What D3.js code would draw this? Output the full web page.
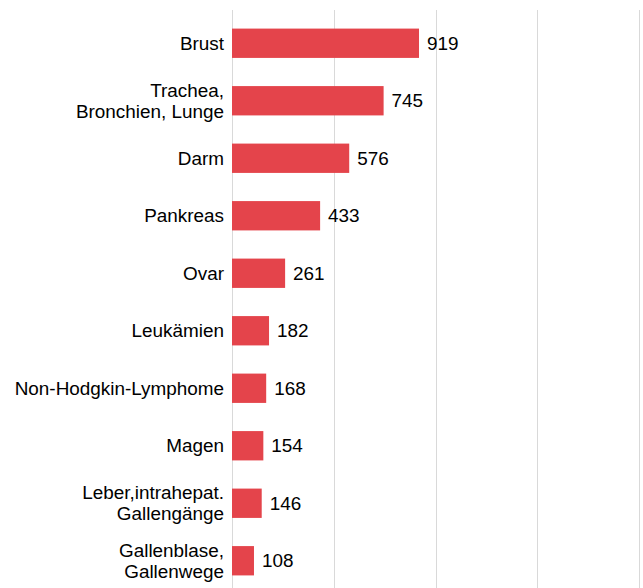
<!DOCTYPE html>
<html><head><meta charset="utf-8">
<script src="https://cdn.jsdelivr.net/npm/d3@7"></script>
<style>body{margin:0;background:#fff}</style>
</head><body>
<svg id="c" width="643" height="588"></svg>
<script>
const categories = [
  ["Brust"],
  ["Trachea,", "Bronchien, Lunge"],
  ["Darm"],
  ["Pankreas"],
  ["Ovar"],
  ["Leukämien"],
  ["Non-Hodgkin-Lymphome"],
  ["Magen"],
  ["Leber,intrahepat.", "Gallengänge"],
  ["Gallenblase,", "Gallenwege"]
];
const values = [919, 745, 576, 433, 261, 182, 168, 154, 146, 108];
const gridTicks = [0, 500, 1000, 1500, 2000];

const svg = d3.select("#c");
const font = "'Liberation Sans', Arial, sans-serif";
const fs = 18.9;
const x = d3.scaleLinear().domain([0, 2000]).range([232, 639]);
const y = d3.scaleBand().domain(d3.range(categories.length)).range([14.5, 589.5])
  .paddingInner(0.49).paddingOuter(0.245);

svg.append("g").selectAll("line").data(gridTicks).join("line")
  .attr("x1", d => Math.round(x(d)) + 0.5).attr("x2", d => Math.round(x(d)) + 0.5)
  .attr("y1", 10).attr("y2", 588)
  .attr("stroke", "#d9d9d9").attr("stroke-width", 1);

svg.append("g").selectAll("rect").data(values).join("rect")
  .attr("x", x(0)).attr("y", (d, i) => y(i))
  .attr("width", d => x(d) - x(0)).attr("height", y.bandwidth())
  .attr("fill", "#e4444b");

svg.append("g").selectAll("text").data(values).join("text")
  .attr("x", d => x(d) + 8).attr("y", (d, i) => y(i) + y.bandwidth() / 2)
  .attr("dy", "0.35em")
  .attr("font-family", font).attr("font-size", fs).attr("fill", "#000")
  .text(d => d);

const lab = svg.append("g").selectAll("text").data(categories).join("text")
  .attr("text-anchor", "end")
  .attr("font-family", font).attr("font-size", fs).attr("fill", "#000")
  .attr("transform", (d, i) => `translate(224,${y(i) + y.bandwidth() / 2})`);
lab.each(function(d) {
  const t = d3.select(this);
  const lh = 21;
  d.forEach((s, k) => {
    t.append("tspan").attr("x", 0)
      .attr("y", (k - (d.length - 1) / 2) * lh)
      .attr("dy", "0.35em").text(s);
  });
});
</script>
</body></html>
